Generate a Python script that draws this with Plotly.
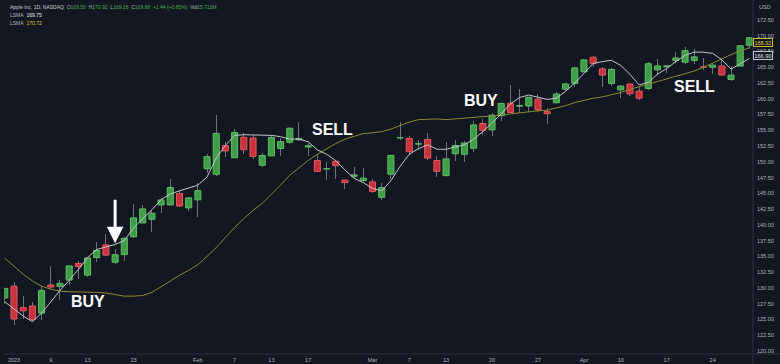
import plotly.graph_objects as go

# ---------------- data ----------------
dates = ['2022-12-30', '2023-01-03', '2023-01-04', '2023-01-05', '2023-01-06', '2023-01-09', '2023-01-10',
         '2023-01-11', '2023-01-12', '2023-01-13', '2023-01-17', '2023-01-18', '2023-01-19', '2023-01-20',
         '2023-01-23', '2023-01-24', '2023-01-25', '2023-01-26', '2023-01-27', '2023-01-30', '2023-01-31',
         '2023-02-01', '2023-02-02', '2023-02-03', '2023-02-06', '2023-02-07', '2023-02-08', '2023-02-09',
         '2023-02-10', '2023-02-13', '2023-02-14', '2023-02-15', '2023-02-16', '2023-02-17', '2023-02-21',
         '2023-02-22', '2023-02-23', '2023-02-24', '2023-02-27', '2023-02-28', '2023-03-01', '2023-03-02',
         '2023-03-03', '2023-03-06', '2023-03-07', '2023-03-08', '2023-03-09', '2023-03-10', '2023-03-13',
         '2023-03-14', '2023-03-15', '2023-03-16', '2023-03-17', '2023-03-20', '2023-03-21', '2023-03-22',
         '2023-03-23', '2023-03-24', '2023-03-27', '2023-03-28', '2023-03-29', '2023-03-30', '2023-03-31',
         '2023-04-03', '2023-04-04', '2023-04-05', '2023-04-06', '2023-04-10', '2023-04-11', '2023-04-12',
         '2023-04-13', '2023-04-14', '2023-04-17', '2023-04-18', '2023-04-19', '2023-04-20', '2023-04-21',
         '2023-04-24', '2023-04-25', '2023-04-26', '2023-04-27', '2023-04-28']

open_ = [128.41, 130.28, 126.89, 127.13, 126.01, 130.47, 130.26, 131.25, 133.88, 132.03, 134.83, 136.82, 134.08,
         135.28, 138.12, 140.31, 140.89, 143.17, 143.16, 144.96, 142.70, 143.97, 148.90, 148.03, 152.57, 150.64,
         153.88, 153.78, 149.46, 150.95, 152.12, 153.11, 153.51, 152.35, 150.20, 148.87, 150.09, 147.11, 147.71,
         147.05, 146.83, 144.38, 148.04, 153.79, 153.70, 152.81, 153.56, 150.21, 147.81, 151.28, 151.19, 152.16,
         156.08, 155.07, 157.32, 159.30, 158.83, 158.86, 159.94, 157.97, 159.37, 161.53, 162.44, 164.27, 166.60,
         164.74, 162.43, 161.42, 162.35, 161.22, 161.63, 164.59, 165.09, 166.10, 165.80, 166.09, 165.05, 165.00,
         165.19, 163.06, 165.19, 168.49]
high = [129.95, 130.90, 128.66, 127.77, 130.29, 133.41, 131.26, 133.51, 134.26, 134.92, 137.29, 138.61, 136.25,
        138.02, 143.32, 143.16, 142.43, 144.25, 147.23, 145.55, 144.34, 146.61, 151.18, 157.38, 153.10, 155.23,
        154.58, 154.33, 151.34, 154.26, 153.77, 155.50, 156.33, 153.00, 151.30, 149.95, 150.34, 147.19, 149.17,
        149.08, 147.23, 146.71, 151.11, 156.30, 154.03, 153.47, 154.54, 150.94, 153.14, 153.40, 153.25, 156.46,
        156.74, 157.82, 159.40, 162.14, 161.55, 160.34, 160.77, 158.49, 161.05, 162.47, 165.00, 166.29, 166.84,
        165.05, 164.96, 162.03, 162.36, 162.06, 165.80, 166.32, 165.39, 167.41, 168.16, 167.87, 166.45, 165.60,
        166.31, 165.28, 168.56, 169.85]
low = [127.43, 124.17, 125.08, 124.76, 124.89, 129.89, 128.12, 130.46, 131.44, 131.66, 134.13, 135.03, 133.77,
       134.22, 137.90, 140.30, 138.81, 141.90, 143.08, 142.85, 142.28, 141.32, 148.17, 147.83, 150.78, 150.64,
       151.17, 150.42, 149.22, 150.92, 150.86, 152.88, 153.35, 150.85, 148.41, 147.16, 147.24, 145.72, 147.45,
       146.83, 145.01, 143.90, 147.33, 153.46, 151.13, 151.83, 150.23, 147.61, 147.70, 150.10, 149.92, 151.64,
       154.28, 154.15, 156.54, 157.81, 157.68, 157.85, 157.87, 155.98, 159.35, 161.27, 161.91, 164.22, 165.11,
       161.80, 162.00, 160.08, 160.51, 159.78, 161.42, 163.82, 164.03, 165.65, 165.54, 165.56, 164.49, 163.89,
       163.73, 162.80, 165.19, 167.88]
close = [129.93, 125.07, 126.36, 125.02, 129.62, 130.15, 130.73, 133.49, 133.41, 134.76, 135.94, 135.21, 135.27,
         137.87, 141.11, 142.53, 141.86, 143.96, 145.93, 143.00, 144.29, 145.43, 150.82, 154.50, 151.73, 154.65,
         151.92, 150.87, 151.01, 153.85, 153.20, 155.33, 153.71, 152.55, 148.48, 148.91, 149.40, 146.71, 147.92,
         147.41, 145.31, 145.91, 151.03, 153.83, 151.60, 152.87, 150.59, 148.50, 150.47, 152.59, 152.99, 155.85,
         155.00, 157.40, 159.28, 157.83, 158.93, 160.25, 158.28, 157.65, 160.77, 162.36, 164.90, 166.17, 165.63,
         163.76, 164.66, 162.03, 160.80, 160.10, 165.56, 165.21, 165.23, 166.47, 167.63, 166.65, 165.02, 165.33,
         163.77, 163.76, 168.41, 169.68]

# fast LSMA (white line)
lsma_fast = [127.8, 126.7, 125.55, 124.65, 126.0, 127.8, 129.6, 131.2, 132.9, 134.8,
             136.1, 136.5, 136.9, 137.5, 139.5, 141.0, 142.4, 144.0, 144.9, 145.4,
             145.9, 146.3, 147.6, 150.6, 152.6, 154.2, 154.3, 154.3, 154.3, 154.2,
             154.0, 153.6, 153.6, 153.2, 151.9, 151.2, 150.2, 148.7, 147.4, 146.7,
             145.8, 145.4, 147.0, 149.3, 151.2, 152.1, 152.7, 152.0, 152.0, 152.4,
             152.7, 153.6, 154.8, 156.2, 157.6, 159.2, 160.2, 160.6, 160.3, 159.9,
             160.1, 161.2, 162.5, 164.0, 165.6, 165.9, 166.1, 165.3, 163.9, 162.2,
             162.6, 163.9, 164.8, 165.9, 166.9, 167.4, 167.4, 167.2, 166.2, 164.7,
             165.5, 166.4]
# slow LSMA (olive line)
lsma_slow = [134.7, 133.4, 132.2, 131.1, 130.3, 129.8, 129.5, 129.4, 129.4, 129.3,
             129.3, 129.2, 128.9, 128.7, 128.7, 128.8, 129.3, 130.2, 131.2, 132.0,
             132.8, 133.7, 135.0, 136.4, 138.0, 139.6, 141.0, 142.3, 143.4, 144.8,
             146.3, 147.9, 149.1, 150.2, 151.2, 152.1, 152.9, 153.6, 154.1, 154.5,
             154.6, 154.8, 155.2, 155.8, 156.3, 156.7, 156.8, 156.8, 156.7, 156.8,
             156.9, 157.0, 157.1, 157.3, 157.4, 157.6, 157.8, 157.9, 158.1, 158.2,
             158.5, 158.9, 159.4, 159.8, 160.1, 160.3, 160.6, 161.0, 161.5, 161.9,
             162.3, 162.8, 163.2, 163.5, 163.9, 164.4, 165.0, 165.7, 166.3, 167.0,
             167.6, 168.1]

tick_dates = ['2023-01-03', '2023-01-09', '2023-01-13', '2023-01-23', '2023-02-01', '2023-02-07', '2023-02-13',
              '2023-02-17', '2023-03-01', '2023-03-07', '2023-03-13', '2023-03-20', '2023-03-27', '2023-04-03',
              '2023-04-10', '2023-04-17', '2023-04-24']
tick_text = ['2023', '9', '13', '23', 'Feb', '7', '13', '17', 'Mar', '7', '13', '20', '27', 'Apr', '10', '17', '24']

price_ticks = [120.0, 122.5, 125.0, 127.5, 130.0, 132.5, 135.0, 137.5, 140.0, 142.5, 145.0, 147.5, 150.0,
               152.5, 155.0, 157.5, 160.0, 162.5, 165.0, 167.5, 170.0, 172.5]

signals = [  # (text, date, bar offset, price level)
    ('BUY', '2023-01-13', 0.1, 127.8),
    ('SELL', '2023-02-22', 0.65, 155.2),
    ('BUY', '2023-03-16', 0.8, 159.8),
    ('SELL', '2023-04-20', 0.0, 161.9),
]
arrow_date, arrow_price = '2023-01-19', 137.1
fast_last_label, slow_last_label = '166.90', '168.92'

# ---------------- figure ----------------
W, H = 780, 364
ML, MR, MT, MB = 4, 27, 0, 10
BG = '#131722'
GREEN, GREEN_L = '#3f9d47', '#5cbf63'
RED, RED_L = '#c7323b', '#e65a60'
WICK = '#6f7380'
TXT = '#b2b5be'
OLIVE = '#8f8a30'
FONT = 'Liberation Sans, Arial, sans-serif'

xi = list(range(len(dates)))
up = [c >= o for o, c in zip(open_, close)]

fig = go.Figure()
# wicks
fig.add_trace(go.Bar(x=xi, base=low, y=[h - l for h, l in zip(high, low)], width=0.11,
                     marker=dict(color=WICK, line=dict(width=0)), hoverinfo='skip'))
# bodies
fig.add_trace(go.Bar(x=xi, base=[min(o, c) for o, c in zip(open_, close)],
                     y=[abs(c - o) for o, c in zip(open_, close)], width=0.66,
                     marker=dict(color=[GREEN if u else RED for u in up],
                                 line=dict(color=[GREEN_L if u else RED_L for u in up], width=1)),
                     hoverinfo='skip'))
fig.add_trace(go.Scatter(x=xi, y=lsma_slow, mode='lines', line=dict(color=OLIVE, width=1), hoverinfo='skip'))
fig.add_trace(go.Scatter(x=xi, y=lsma_fast, mode='lines', line=dict(color='#c3c6ce', width=1), hoverinfo='skip'))

tickvals = [dates.index(d) for d in tick_dates]

fig.update_layout(
    width=W, height=H, margin=dict(l=ML, r=MR, t=MT, b=MB, autoexpand=False),
    paper_bgcolor=BG, plot_bgcolor=BG, showlegend=False, barmode='overlay', bargap=0,
    font=dict(family=FONT, color=TXT, size=6),
    xaxis=dict(range=[-0.088, 81.39], tickvals=tickvals, ticktext=tick_text, showgrid=False,
               zeroline=False, showline=False, ticks='', tickfont=dict(size=5.5, color=TXT), ticklabelstandoff=1),
    yaxis=dict(range=[119.524, 175.67], side='right', tickvals=price_ticks,
               ticktext=['%.2f' % v for v in price_ticks], showgrid=False, zeroline=False,
               showline=False, ticks='', tickfont=dict(size=5.5, color=TXT), ticklabelstandoff=3),
)

pw, ph = W - ML - MR, H - MT - MB
# frame lines of the price scale / time scale
fig.add_shape(type='line', xref='paper', yref='paper', x0=1, x1=1, y0=-MB / ph, y1=1 + MT / ph,
              line=dict(color='#2f333e', width=1))
fig.add_shape(type='line', xref='paper', yref='paper', x0=0, x1=1 + MR / pw, y0=0, y1=0,
              line=dict(color='#2f333e', width=1))

def px(x):
    return (x - ML) / pw

def py(y):
    return (H - MB - y) / ph

G = '#4caf50'
HF = 5
hdr = ("<span style='color:#c9ccd4'>Apple Inc, 1D, NASDAQ</span>&nbsp;&nbsp;"
       "O<span style='color:%s'>169.50</span>&nbsp;&nbsp;H<span style='color:%s'>170.92</span>&nbsp;&nbsp;"
       "L<span style='color:%s'>169.18</span>&nbsp;&nbsp;C<span style='color:%s'>169.98</span>&nbsp;&nbsp;"
       "<span style='color:%s'>+1.44 (+0.85%%)</span>&nbsp;&nbsp;Vol<span style='color:%s'>25.713M</span>"
       % (G, G, G, G, G, G))
fig.add_annotation(xref='paper', yref='paper', x=px(8), y=py(7), text=hdr, showarrow=False,
                   xanchor='left', yanchor='middle', font=dict(size=HF, color=TXT, family=FONT))
fig.add_annotation(xref='paper', yref='paper', x=px(8), y=py(15.5),
                   text="LSMA&nbsp;&nbsp;<span style='color:#e6e8ee'>169.75</span>", showarrow=False,
                   xanchor='left', yanchor='middle', font=dict(size=HF, color=TXT, family=FONT))
fig.add_annotation(xref='paper', yref='paper', x=px(8), y=py(23.5),
                   text="LSMA&nbsp;&nbsp;<span style='color:#e0c836'>170.72</span>", showarrow=False,
                   xanchor='left', yanchor='middle', font=dict(size=HF, color=TXT, family=FONT))
fig.add_annotation(xref='paper', yref='paper', x=px(757), y=py(7), text='USD', showarrow=False,
                   xanchor='left', yanchor='middle', font=dict(size=5.5, color=TXT, family=FONT))

# last-value labels on the price scale
fig.add_annotation(xref='paper', yref='y', x=1, y=float(slow_last_label), text=slow_last_label,
                   showarrow=False, xanchor='left', yanchor='middle', bgcolor=BG, bordercolor='#c9b53a',
                   borderwidth=1, borderpad=0.5, font=dict(size=5.5, color='#e0c836', family=FONT))
fig.add_annotation(xref='paper', yref='y', x=1, y=float(fast_last_label), text=fast_last_label,
                   showarrow=False, xanchor='left', yanchor='middle', bgcolor=BG, bordercolor='#c3c6ce',
                   borderwidth=1, borderpad=0.5, font=dict(size=5.5, color='#e6e8ee', family=FONT))

for txt, d, off, p in signals:
    fig.add_annotation(x=dates.index(d) + off, y=p, text='<b>%s</b>' % txt, showarrow=False,
                       font=dict(size=16, color='white', family=FONT), xanchor='center', yanchor='middle')

fig.add_annotation(x=dates.index(arrow_date), y=arrow_price, text='', showarrow=True, ax=0, ay=-45,
                   arrowhead=2, arrowsize=1.1, arrowwidth=3, arrowcolor='white')

fig.write_html('out.html', config={'displayModeBar': False, 'staticPlot': True},
               post_script="document.body.style.margin='0';document.body.style.background='#131722';")
